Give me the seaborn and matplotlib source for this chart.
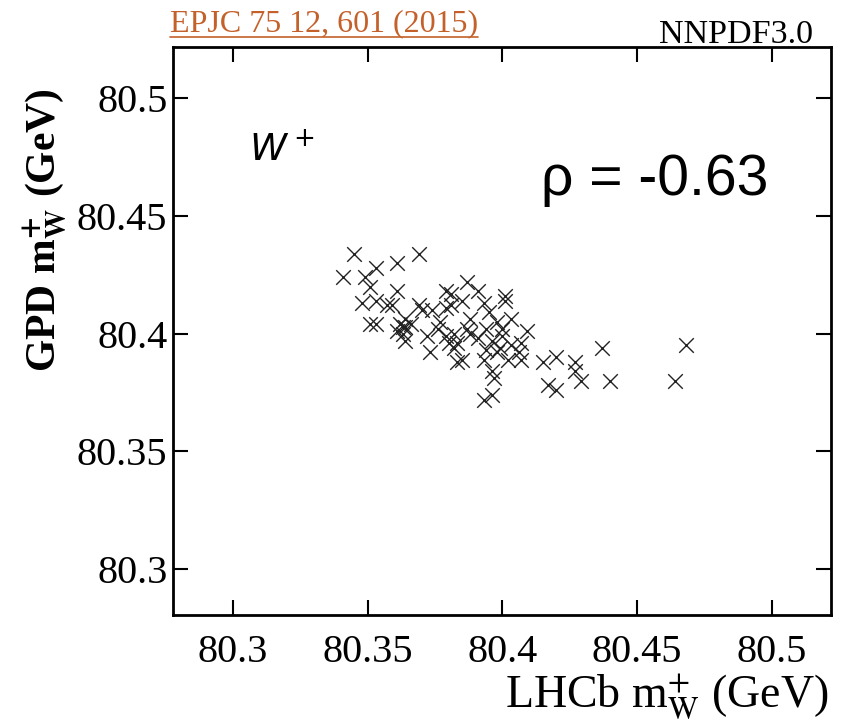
import matplotlib
matplotlib.use("Agg")
import matplotlib.pyplot as plt
import seaborn as sns
import pandas as pd

# LHCb m_W+ (x) and GPD m_W+ (y), GeV
lhcb_mw = [80.345, 80.353, 80.361, 80.369, 80.341, 80.349, 80.351, 80.361, 80.348, 80.353,
           80.357, 80.359, 80.369, 80.374, 80.370, 80.379, 80.381, 80.379, 80.381, 80.387,
           80.391, 80.401, 80.401, 80.385, 80.393, 80.395, 80.403, 80.398, 80.409, 80.387,
           80.388, 80.383, 80.391, 80.396, 80.399, 80.407, 80.385, 80.393, 80.398, 80.402,
           80.407, 80.396, 80.397, 80.415, 80.420, 80.427, 80.427, 80.429, 80.417, 80.420,
           80.393, 80.396, 80.437, 80.440, 80.464, 80.468, 80.351, 80.353, 80.362, 80.363,
           80.364, 80.366, 80.363, 80.364, 80.372, 80.373, 80.376, 80.379, 80.380, 80.382,
           80.382, 80.383, 80.364, 80.361, 80.377, 80.394, 80.400, 80.403, 80.394, 80.400,
           80.388, 80.406]
gpd_mw = [80.434, 80.428, 80.430, 80.434, 80.424, 80.424, 80.420, 80.418, 80.413, 80.414,
          80.412, 80.412, 80.412, 80.410, 80.410, 80.411, 80.412, 80.418, 80.417, 80.422,
          80.418, 80.416, 80.414, 80.414, 80.413, 80.409, 80.406, 80.405, 80.401, 80.402,
          80.400, 80.396, 80.398, 80.397, 80.394, 80.396, 80.389, 80.389, 80.392, 80.389,
          80.389, 80.384, 80.381, 80.388, 80.390, 80.388, 80.384, 80.380, 80.378, 80.376,
          80.372, 80.374, 80.394, 80.380, 80.380, 80.395, 80.404, 80.404, 80.404, 80.403,
          80.403, 80.404, 80.400, 80.397, 80.399, 80.392, 80.402, 80.399, 80.396, 80.400,
          80.394, 80.388, 80.406, 80.401, 80.405, 80.402, 80.399, 80.395, 80.393, 80.402,
          80.406, 80.392]

x_ticks = [80.3, 80.35, 80.4, 80.45, 80.5]
x_tick_labels = ["80.3", "80.35", "80.4", "80.45", "80.5"]
y_ticks = [80.3, 80.35, 80.4, 80.45, 80.5]
y_tick_labels = ["80.3", "80.35", "80.4", "80.45", "80.5"]

df = pd.DataFrame({"lhcb": lhcb_mw, "gpd": gpd_mw})

sns.set_style("ticks")
fig = plt.figure(figsize=(8.48, 7.24), dpi=100)
ax = fig.add_axes([0.204, 0.1506, 0.776, 0.7844])

sns.scatterplot(data=df, x="lhcb", y="gpd", marker="x", s=110, color="#222222",
                linewidth=1.0, ax=ax, legend=False)

ax.set_xlim(80.2778, 80.5219)
ax.set_ylim(80.2805, 80.5217)
ax.set_xticks(x_ticks)
ax.set_xticklabels(x_tick_labels, family="Liberation Serif", fontsize=29, color="black")
ax.set_yticks(y_ticks)
ax.set_yticklabels(y_tick_labels, family="Liberation Serif", fontsize=29, color="black")
ax.tick_params(axis="x", direction="in", length=11, width=1.5, top=True, pad=14, colors="black")
ax.tick_params(axis="y", direction="in", length=11, width=1.5, right=True, pad=4, colors="black")
ax.minorticks_off()
for sp in ax.spines.values():
    sp.set_linewidth(2)
    sp.set_color("black")

ax.set_xlabel("")
ax.set_ylabel("")
fig.text(828 / 848, 1 - 707 / 724, r"LHCb m$_{\mathrm{W}}^{+}$ (GeV)", family="Liberation Serif",
         fontsize=33, math_fontfamily="stix", ha="right", va="baseline", color="black")
fig.text(45 / 848, 1 - 230 / 724, r"GPD m$_{\mathbf{W}}^{\mathbf{+}}$ (GeV)", family="Liberation Serif",
         fontsize=30, fontweight="bold", math_fontfamily="stix", rotation=90,
         ha="center", va="center", color="black")

ax.text(0.115, 0.80, r"$W^+$", transform=ax.transAxes, fontsize=27, math_fontfamily="dejavusans",
        color="black")
ax.text(0.56, 0.74, "ρ = -0.63", transform=ax.transAxes, fontsize=41, family="Liberation Sans",
        color="black")

fig.text(170 / 848, 1 - 31 / 724, "EPJC 75 12, 601 (2015)", family="Liberation Serif", fontsize=23,
         color="#c4612a")
fig.add_artist(plt.Line2D([170 / 848, 478 / 848], [1 - 37 / 724, 1 - 37 / 724], color="#c4612a", lw=1.2))
fig.text(813 / 848, 1 - 43 / 724, "NNPDF3.0", family="Liberation Serif", fontsize=24.5,
         ha="right", color="black")

fig.savefig("out.png", dpi=100)
